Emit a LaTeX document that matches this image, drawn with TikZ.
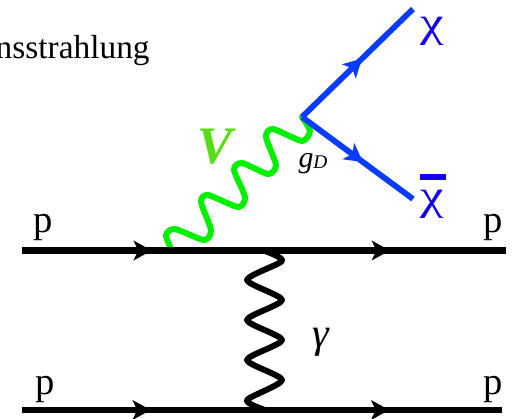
\documentclass[tikz,border=0pt]{standalone}
\usepackage{fontspec}
\setmainfont{Liberation Serif}
\usepackage{xcolor}
\usetikzlibrary{arrows.meta, decorations.markings}
\definecolor{ink}{HTML}{000000}
\definecolor{darkblue}{HTML}{0A3CFF}
\definecolor{chiblue}{HTML}{1400F0}
\definecolor{medgreen}{HTML}{00F000}
\definecolor{vgreen}{HTML}{58DC14}
\tikzset{
  tag/.style     = {anchor=base, inner sep=0pt, text=ink},
  ptag/.style    = {tag, font=\fontsize{22}{24}\selectfont},
  chitag/.style  = {tag, text=chiblue, font=\fontsize{24}{26}\selectfont},
  fermion/.style 2 args = {draw=#2, postaction={decorate}, decoration={markings,
                     mark=at position #1 with {\arrow[#2]{Stealth[length=3.6mm, width=3.9mm, inset=0.9mm]}}}},
  proton/.style  = {line width=3.7pt},
  dark/.style    = {line width=3.3pt},
  boson/.style   = {line width=3.4pt, line join=round, line cap=round},
}
\begin{document}
\begin{tikzpicture}[x=0.02cm, y=-0.02cm]
  \useasboundingbox (0,0) rectangle (514,419);

  \coordinate (pin1) at (22,250.5);
  \coordinate (pout1) at (506,250.5);
  \coordinate (pin2) at (22,410);
  \coordinate (pout2) at (502,410);
  \coordinate (vtx) at (302,117);
  \coordinate (chi1) at (413,9);
  \coordinate (chi2) at (413,199);
  \coordinate (rad) at (172,251);
  \coordinate (top) at (265,251);
  \coordinate (bot) at (265,410);

  \draw[boson, draw=ink] plot[smooth, tension=0.42] coordinates {(top) (282,261) (247,280) (282,300) (247,320) (282,340) (247,360) (282,380) (247,400) (bot)};
  \draw[boson, draw=medgreen] plot[smooth, tension=0.42] coordinates {(rad) (166,235) (175,229) (204,240) (211,230) (201,202) (208,195) (238,207) (245,197) (234,170) (242,163) (268,174) (276,165) (266,137) (273,129) (302,141) (310,131) (vtx)};

  \draw[proton, fermion={0.268}{ink}] (pin1) -- (pout1);
  \draw[proton, fermion={0.760}{ink}] (pin1) -- (pout1);
  \draw[proton, fermion={0.268}{ink}] (pin2) -- (pout2);
  \draw[proton, fermion={0.765}{ink}] (pin2) -- (pout2);
  \draw[dark, fermion={0.54}{darkblue}] (vtx) -- (chi1);
  \draw[dark, fermion={0.55}{darkblue}] (vtx) -- (chi2);

  \node[tag, anchor=base east, font=\fontsize{19}{21}\selectfont] (brem) at (150,58) {nsstrahlung};
  \node[ptag] (p1) at (43,232) {p};
  \node[ptag] (p2) at (45,394.5) {p};
  \node[ptag] (p3) at (493.5,232) {p};
  \node[ptag] (p4) at (493.5,394.5) {p};
  \node[tag, font=\fontsize{24}{26}\selectfont\itshape] (gam) at (321,347) {γ};
  \node[tag, font=\fontsize{17}{19}\selectfont\itshape] (gd) at (313,167) {g\raisebox{-1pt}{\fontsize{11}{13}\selectfont D}};
  \node[tag, text=vgreen, font=\fontsize{30}{32}\selectfont\bfseries\itshape] (vee) at (215,163) {V};
  \node[chitag] (x1) at (432,36) {\scalebox{1.25}[1]{χ}};
  \node[chitag] (x2) at (432,209) {\scalebox{1.25}[1]{χ}};
  \draw[line width=2.9pt, draw=chiblue] ([shift={(-12,-32)}]x2.base) -- ([shift={(14,-32)}]x2.base);
\end{tikzpicture}
\end{document}
